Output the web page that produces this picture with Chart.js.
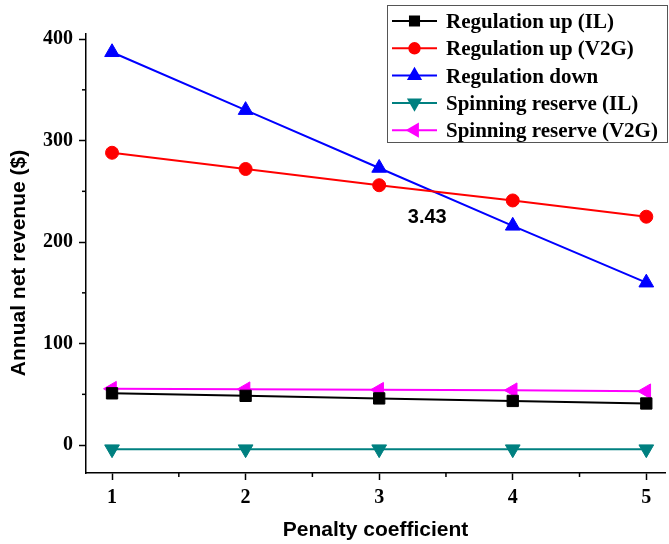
<!DOCTYPE html>
<html>
<head>
<meta charset="utf-8">
<script src="https://cdn.jsdelivr.net/npm/chart.js@4.4.1/dist/chart.umd.min.js"></script>
<style>
  html, body { margin: 0; padding: 0; background: #fff; }
  #wrap { width: 669px; height: 544px; }
</style>
</head>
<body>
<div id="wrap"><canvas id="revenueChart" width="669" height="544"></canvas></div>
<script>
// values
var penalty = [1, 2, 3, 4, 5];
var regUpIL = [51, 48.5, 46, 43.5, 41];
var regUpV2G = [288, 272, 256, 241, 225];
var regDown = [387, 330, 273, 216, 160];
var spinIL = [-4, -4, -4, -4, -4];
var spinV2G = [55.5, 55, 54.5, 54, 53];

var xTicks = [1, 2, 3, 4, 5];
var xMinor = [1.5, 2.5, 3.5, 4.5];
var yTicks = [0, 100, 200, 300, 400];
var yMinor = [50, 150, 250, 350];

var yTitle = "Annual net revenue ($)";
var crossText = "3.43";
var crossPos = [3.36, 224];

var tickFont = { family: "'Liberation Serif', 'Times New Roman', serif", size: 20, weight: "bold" };
var titleFont = { family: "'Liberation Sans', Arial, sans-serif", size: 21, weight: "bold" };

function series(label, values, color, style, rotation, radius) {
    return {
        label: label,
        data: penalty.map(function (x, i) { return { x: x, y: values[i] }; }),
        borderColor: color,
        backgroundColor: color,
        borderWidth: 2,
        pointStyle: style,
        rotation: rotation,
        pointRadius: radius,
        pointHoverRadius: radius,
        pointBorderWidth: 1,
        pointBackgroundColor: color,
        pointBorderColor: color,
        fill: false,
        tension: 0,
        clip: false,
    };
}

// minor ticks, y title, legend box and the crossing label
var extras = {
    id: "extras",
    afterDraw: function (chart) {
        var ctx = chart.ctx;
        var xs = chart.scales.x, ys = chart.scales.y;
        var area = chart.chartArea;
        ctx.save();
        ctx.strokeStyle = "#000";
        ctx.lineWidth = 1.5;
        xMinor.forEach(function (v) {
            var px = xs.getPixelForValue(v);
            ctx.beginPath();
            ctx.moveTo(px, area.bottom);
            ctx.lineTo(px, area.bottom + 4);
            ctx.stroke();
        });
        yMinor.forEach(function (v) {
            var py = ys.getPixelForValue(v);
            ctx.beginPath();
            ctx.moveTo(area.left, py);
            ctx.lineTo(area.left - 4, py);
            ctx.stroke();
        });

        // y axis title (sits a bit below the axis centre in the original)
        ctx.fillStyle = "#000";
        ctx.font = "bold 21px 'Liberation Sans', Arial, sans-serif";
        ctx.textAlign = "center";
        ctx.textBaseline = "middle";
        ctx.save();
        ctx.translate(19, 263);
        ctx.rotate(-Math.PI / 2);
        ctx.fillText(yTitle, 0, 0);
        ctx.restore();

        // crossing label
        ctx.font = "bold 20px 'Liberation Sans', Arial, sans-serif";
        ctx.fillText(crossText, xs.getPixelForValue(crossPos[0]), ys.getPixelForValue(crossPos[1]));

        // legend
        var bx = 387, by = 5, bw = 280, bh = 137;
        ctx.fillStyle = "#fff";
        ctx.fillRect(bx, by, bw, bh);
        ctx.strokeStyle = "#555";
        ctx.lineWidth = 1;
        ctx.strokeRect(bx + 0.5, by + 0.5, bw, bh);
        ctx.font = "bold 21px 'Liberation Serif', 'Times New Roman', serif";
        ctx.textAlign = "left";
        chart.data.datasets.forEach(function (ds, i) {
            var cy = 21 + i * 27.3;
            ctx.strokeStyle = ds.borderColor;
            ctx.lineWidth = 2;
            ctx.beginPath();
            ctx.moveTo(392, cy);
            ctx.lineTo(437, cy);
            ctx.stroke();
            ctx.fillStyle = ds.borderColor;
            Chart.helpers.drawPoint(ctx, {
                pointStyle: ds.pointStyle,
                rotation: ds.rotation,
                radius: ds.pointRadius * 0.8,
                borderWidth: 1,
            }, 414.5, cy);
            ctx.fillStyle = "#000";
            ctx.fillText(ds.label, 446, cy + 1.5);
        });
        ctx.restore();
    },
};

document.addEventListener("DOMContentLoaded", function () {
    var ctx = document.getElementById("revenueChart").getContext("2d");

    var revenueChart = new Chart(ctx, {
        type: "line",
        data: {
            datasets: [
                series("Regulation up (IL)", regUpIL, "#000000", "rect", 0, 8),
                series("Regulation up (V2G)", regUpV2G, "#ff0000", "circle", 0, 6.5),
                series("Regulation down", regDown, "#0000ff", "triangle", 0, 8.5),
                series("Spinning reserve (IL)", spinIL, "#008080", "triangle", 180, 8.5),
                series("Spinning reserve (V2G)", spinV2G, "#ff00ff", "triangle", 270, 8.5),
            ],
        },
        plugins: [extras],
        options: {
            responsive: false,
            animation: false,
            layout: { autoPadding: false, padding: { top: 34, right: 4, left: 0, bottom: 0 } },
            plugins: {
                legend: { display: false },
                tooltip: { enabled: false },
            },
            scales: {
                x: {
                    type: "linear",
                    min: 0.805,
                    max: 5.14,
                    afterBuildTicks: function (scale) {
                        scale.ticks = xTicks.map(function (v) { return { value: v }; });
                    },
                    afterFit: function (scale) {
                        scale.height = 71;
                        scale.paddingLeft = 0;
                        scale.paddingRight = 0;
                    },
                    border: { display: true, color: "#000", width: 1.5 },
                    grid: { drawOnChartArea: false, drawTicks: true, tickLength: 7, tickColor: "#000", tickWidth: 1.5 },
                    ticks: { color: "#000", font: tickFont, padding: 6, maxRotation: 0 },
                    title: {
                        display: true,
                        text: "Penalty coefficient",
                        color: "#000",
                        font: titleFont,
                        padding: { top: 0, bottom: 1 },
                    },
                },
                y: {
                    min: -27.5,
                    max: 405,
                    afterBuildTicks: function (scale) {
                        scale.ticks = yTicks.map(function (v) { return { value: v }; });
                    },
                    afterFit: function (scale) { scale.width = 86; },
                    border: { display: true, color: "#000", width: 1.5 },
                    grid: { drawOnChartArea: false, drawTicks: true, tickLength: 7, tickColor: "#000", tickWidth: 1.5 },
                    ticks: { color: "#000", font: tickFont, padding: 6 },
                    title: { display: false },
                },
            },
        },
    });
});
</script>
</body>
</html>
